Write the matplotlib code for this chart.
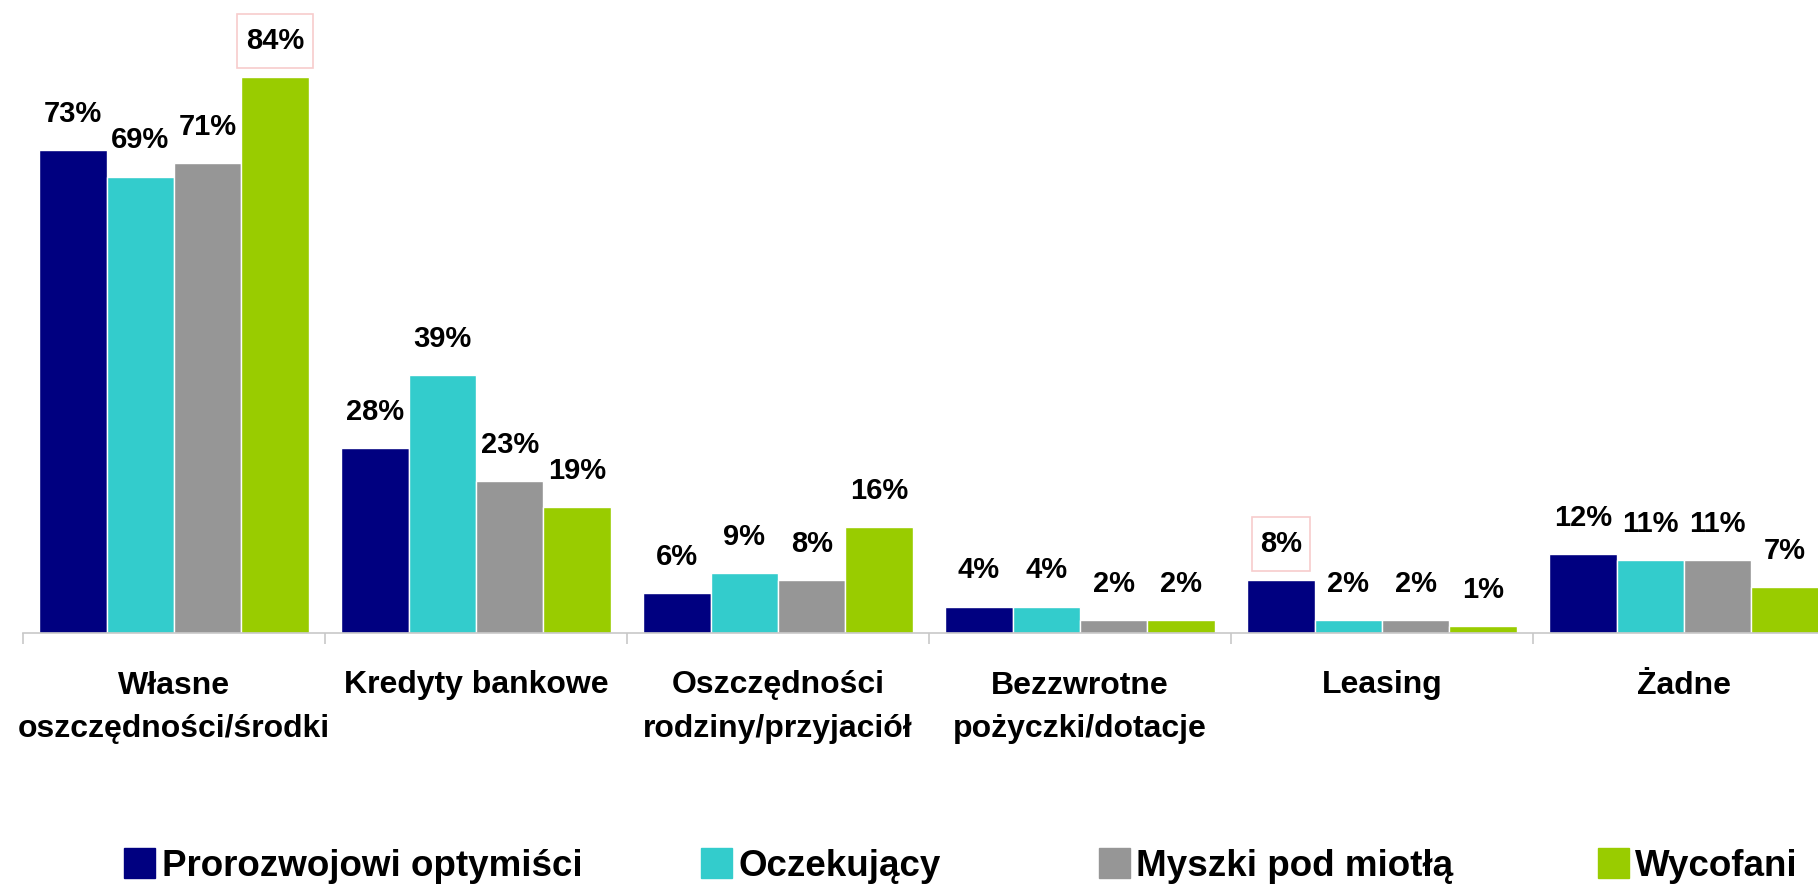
import matplotlib
matplotlib.use("Agg")
import matplotlib.pyplot as plt
from matplotlib.patches import Rectangle
from matplotlib.path import Path
import numpy as np

plt.rcParams['font.family'] = ['Liberation Sans', 'DejaVu Sans']

categories = ["Własne\noszczędności/środki", "Kredyty bankowe",
              "Oszczędności\nrodziny/przyjaciół", "Bezzwrotne\npożyczki/dotacje",
              "Leasing", "Żadne"]
series_names = ["Prorozwojowi optymiści", "Oczekujący", "Myszki pod miotłą", "Wycofani"]
prorozwojowi = [73, 28, 6, 4, 8, 12]
oczekujacy = [69, 39, 9, 4, 2, 11]
myszki = [71, 23, 8, 2, 2, 11]
wycofani = [84, 19, 16, 2, 1, 7]
colors = ["#000080", "#33CCCC", "#969696", "#99CC00"]
boxed = [(3, 0), (0, 4)]  # (series index, category index) of labels with a frame


def frame_box(x0, y0, width, height, mutation_size):
    px = 0.29 * mutation_size
    py = 0.45 * mutation_size
    x0, x1 = x0 - px, x0 + width + px
    y0, y1 = y0 - py, y0 + height + py
    return Path([(x0, y0), (x1, y0), (x1, y1), (x0, y1), (x0, y0)], closed=True)


W, H = 1818, 884
fig = plt.figure(figsize=(W / 100, H / 100), dpi=100)
base_px = 633
left_px = 23
pitch_px = 302
ax = fig.add_axes([left_px / W, (H - base_px) / H, 6 * pitch_px / W, 628.4 / H])
ax.set_xlim(0, 6)
ax.set_ylim(0, 95)

series = [prorozwojowi, oczekujacy, myszki, wycofani]
bw = 0.223
x = np.arange(len(categories)) + 0.5
for i, vals in enumerate(series):
    xs = x + (i - 1.5) * bw
    ax.bar(xs, vals, width=bw, color=colors[i], edgecolor='white', linewidth=1.0,
           label=series_names[i], zorder=2)
    for j, (xx, v) in enumerate(zip(xs, vals)):
        kw = {}
        if (i, j) in boxed:
            kw['bbox'] = dict(boxstyle=frame_box, fc='none', ec='#f7cccc', lw=1.2)
        ax.annotate(f"{v}%", xy=(xx, v), xytext=(0, 26), textcoords='offset points',
                    ha='center', va='center', fontsize=21, fontweight='bold',
                    color='black', **kw)

for s in ['top', 'right', 'left']:
    ax.spines[s].set_visible(False)
ax.spines['bottom'].set_color('#c8c8c8')
ax.spines['bottom'].set_linewidth(1.2)
ax.set_yticks([])
ax.set_xticks(x)
ax.set_xticklabels(categories, fontsize=23, fontweight='bold', linespacing=1.6)
ax.tick_params(axis='x', which='major', length=0, pad=27)
ax.set_xticks(np.arange(0, 7), minor=True)
ax.tick_params(axis='x', which='minor', length=8, color='#c8c8c8', width=1.2, direction='out')

# legend
handle_x = [124, 701, 1099, 1598]
text_x = [162, 738, 1136, 1635]
ly = 866
hy = 863
for i in range(4):
    fig.add_artist(Rectangle((handle_x[i] / W, (H - hy - 15) / H), 31 / W, 30 / H,
                             transform=fig.transFigure, color=colors[i]))
    fig.text(text_x[i] / W, (H - ly) / H, series_names[i], fontsize=26.5,
             fontweight='bold', va='center', ha='left')

fig.savefig("out.png", dpi=100, facecolor='white')
